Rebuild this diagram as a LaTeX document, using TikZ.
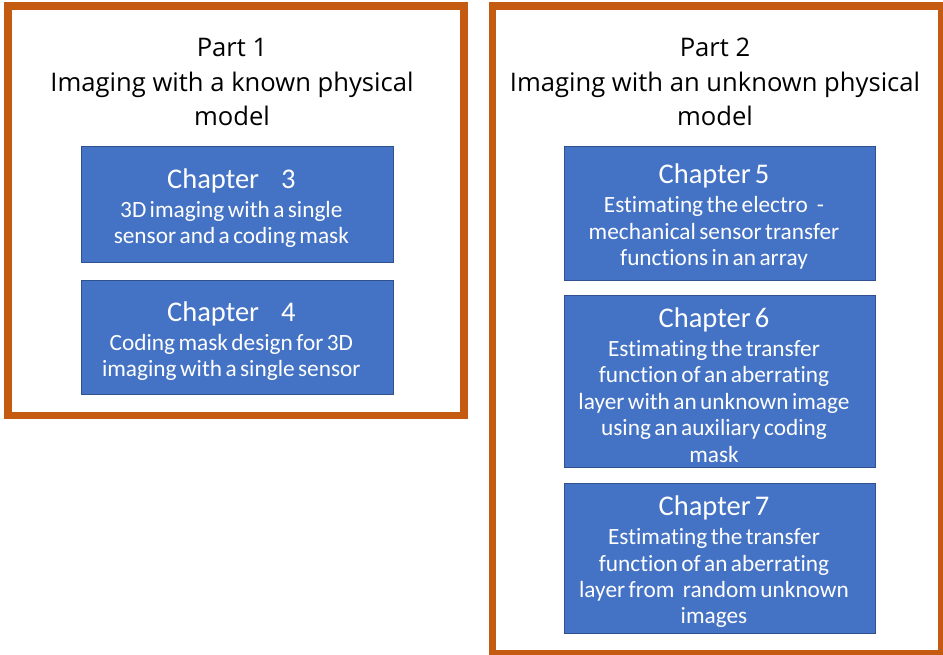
\documentclass[tikz,border=0pt]{standalone}
\usepackage{fontspec}
\newfontfamily\titlefont{Open Sans}
\newfontfamily\boxfont[WordSpace=0.65,Ligatures=NoCommon]{Carlito}
\definecolor{frameorange}{HTML}{C55A11}
\definecolor{chapblue}{HTML}{4472C4}
\definecolor{chapedge}{HTML}{2F528F}
\begin{document}
\begin{tikzpicture}[x=1pt,y=-1pt,
  partframe/.style={draw=frameorange, line width=7.5pt, fill=white, inner sep=0pt},
  chapbox/.style={draw=chapedge, line width=1pt, fill=chapblue, inner sep=0pt},
  chaptext/.style={text=white, align=center, inner sep=0pt, xshift=-6pt, yshift=-3.5pt,
    font=\boxfont\fontsize{23.3}{26.4}\selectfont},
  parttitle/.style={align=center, inner sep=0pt, font=\titlefont\fontsize{25.6}{34.2}\selectfont},
]
\useasboundingbox (0,0) rectangle (943,654);
\newcommand{\chaphead}[1]{{\fontsize{28.5}{29}\selectfont #1}\\[2.6pt]}

% frames
\node[partframe, minimum width=456pt, minimum height=409.5pt] (part1) at (236,210.75) {};
\node[partframe, minimum width=449.5pt, minimum height=647.75pt] (part2) at (717.25,329.9) {};

% titles
\node[parttitle] (title1) at (232,82) {Part 1\\Imaging with a known physical\\model};
\node[parttitle] (title2) at (715,82) {Part 2\\Imaging with an unknown physical\\model};

% chapter boxes
\node[chapbox, minimum width=311.3pt, minimum height=116pt] (c3) at (237.35,204.7) {};
\node[chapbox, minimum width=311.3pt, minimum height=113.3pt] (c4) at (237.35,337.35) {};
\node[chapbox, minimum width=310.6pt, minimum height=133.3pt] (c5) at (720,213.35) {};
\node[chapbox, minimum width=310.6pt, minimum height=171.6pt] (c6) at (720,381.5) {};
\node[chapbox, minimum width=310.6pt, minimum height=150pt] (c7) at (720,558.3) {};

% chapter texts
\node[chaptext] (t3) at (c3.center) {\chaphead{Chapter\hspace{22pt}3}3D imaging with a single\\sensor and a coding mask};
\node[chaptext] (t4) at (c4.center) {\chaphead{Chapter\hspace{22pt}4}Coding mask design for 3D\\imaging with a single sensor};
\node[chaptext] (t5) at (c5.center) {\chaphead{Chapter 5}Estimating the electro\hspace{9pt}-\\mechanical sensor transfer\\functions in an array};
\node[chaptext] (t6) at (c6.center) {\chaphead{Chapter 6}Estimating the transfer\\function of an aberrating\\layer with an unknown image\\using an auxiliary coding\\mask};
\node[chaptext] (t7) at (c7.center) {\chaphead{Chapter 7}Estimating the transfer\\function of an aberrating\\layer from\hspace{5pt} random unknown\\images};
\end{tikzpicture}
\end{document}
